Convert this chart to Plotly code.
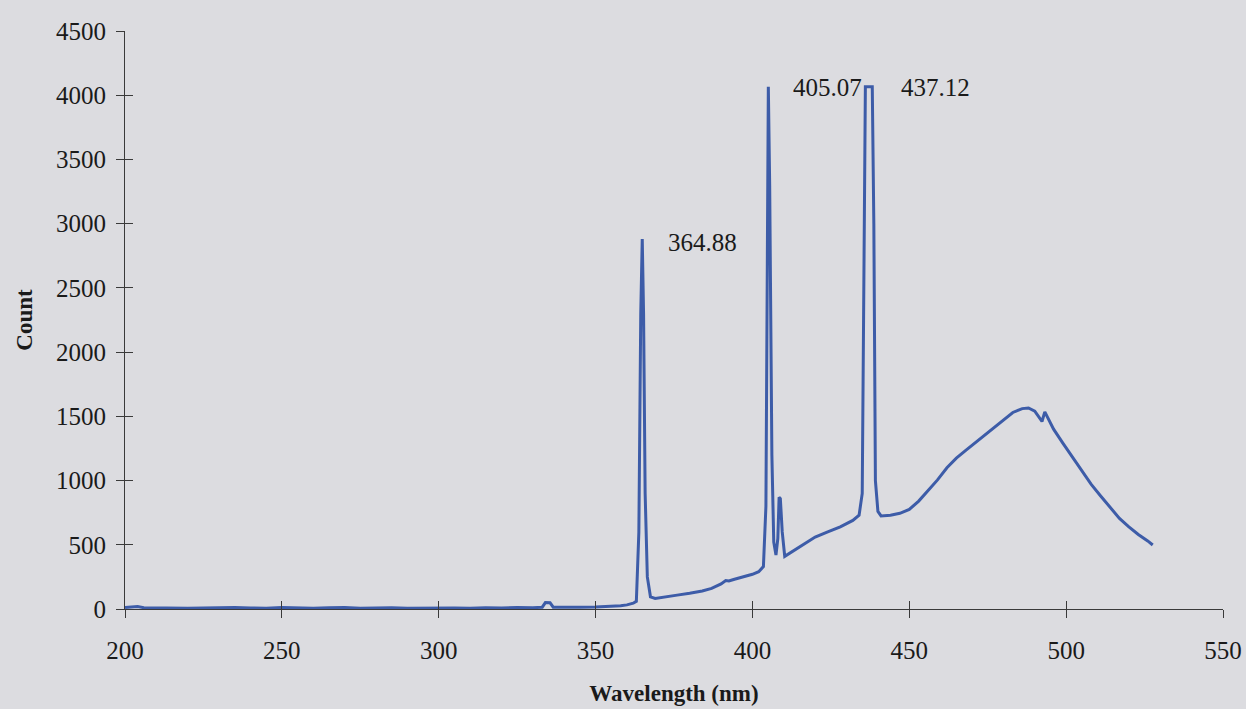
import plotly.graph_objects as go

wavelength = [200, 202, 204, 206, 210, 215, 220, 225, 230, 235, 240, 245, 250, 255, 260,
              265, 270, 275, 280, 285, 290, 295, 300, 305, 310, 315, 320, 325, 330, 333,
              334, 335.5, 336.5, 340, 345, 350, 355, 358, 360, 362, 363, 363.8, 364.4,
              364.88, 365.3, 365.8, 366.5, 367.5, 369, 372, 376, 380, 384, 387, 390,
              391.5, 392.5, 394, 397, 400, 402, 403.5, 404.3, 404.7, 405.07, 405.5, 406.2,
              406.8, 407.5, 408.1, 408.5, 408.9, 409.5, 410.3, 413, 416, 420, 424, 428,
              432, 434, 435, 435.6, 436.0, 438.2, 438.7, 439.2, 440, 441, 444, 447, 450,
              453, 456, 459, 462, 465, 468, 471, 474, 477, 480, 483, 486, 488, 490, 491.5,
              492.3, 493.2, 494.5, 496, 499, 502, 505, 508, 511, 514, 517, 520, 523, 526,
              527.6]
count = [12, 18, 20, 10, 8, 10, 6, 8, 10, 12, 8, 6, 12, 8, 6,
         10, 12, 6, 8, 10, 6, 8, 10, 8, 6, 10, 8, 12, 10, 14,
         50, 48, 14, 12, 14, 16, 20, 25, 32, 45, 60, 600, 2300,
         2880, 2300, 900, 250, 95, 82, 95, 108, 122, 140, 160, 195,
         222, 218, 230, 250, 270, 290, 330, 800, 3200, 4065, 3300, 1200,
         520, 420, 550, 870, 860, 600, 410, 450, 500, 560, 600, 640,
         690, 730, 900, 3000, 4065, 4065, 3000, 1000, 760, 725, 730, 745, 775,
         840, 920, 1005, 1100, 1175, 1235, 1295, 1350, 1410, 1470, 1530, 1560, 1565, 1540, 1490,
         1460, 1535, 1470, 1400, 1290, 1180, 1080, 970, 880, 790, 705, 640, 580, 530,
         498]

peak_labels = ["364.88", "405.07", "437.12"]
label_x = [384.2, 423.8, 458.2]
label_y = [2850, 4058, 4058]

x_ticks = [200, 250, 300, 350, 400, 450, 500, 550]
y_ticks = [0, 500, 1000, 1500, 2000, 2500, 3000, 3500, 4000, 4500]

FONT = "Liberation Serif"
BG = "#dcdce0"
AX = "#3a3a3a"

fig = go.Figure()
fig.add_trace(go.Scatter(x=wavelength, y=count, mode="lines",
                         line=dict(color="#3d5ca8", width=3), showlegend=False,
                         hoverinfo="skip"))
fig.add_trace(go.Scatter(x=[None], y=[None], xaxis="x2", yaxis="y2", showlegend=False,
                         hoverinfo="skip"))

for t, xv, yv in zip(peak_labels, label_x, label_y):
    fig.add_annotation(x=xv, y=yv, xref="x", yref="y", text=t, showarrow=False,
                       font=dict(family=FONT, size=25, color="#1a1a1a"))

fig.update_layout(
    width=1246, height=709,
    margin=dict(l=125, r=23, t=31, b=100),
    paper_bgcolor=BG, plot_bgcolor=BG,
    font=dict(family=FONT, size=25, color="#1a1a1a"),
    xaxis=dict(range=[200, 550], tickvals=x_ticks, ticks="outside", ticklen=8,
               tickcolor=AX, tickwidth=1.2, showline=True, linecolor=AX, linewidth=1.2,
               showgrid=False, zeroline=False, ticklabelstandoff=11, automargin=False,
               title=dict(text="<b>Wavelength (nm)</b>", font=dict(family=FONT, size=23),
                          standoff=21)),
    yaxis=dict(range=[0, 4500], tickvals=y_ticks, ticks="outside", ticklen=8,
               tickcolor=AX, tickwidth=1.2, showline=True, linecolor=AX, linewidth=1.2,
               showgrid=False, zeroline=False, ticklabelstandoff=5, automargin=False,
               title=dict(text="<b>Count</b>", font=dict(family=FONT, size=23),
                          standoff=16)),
    xaxis2=dict(range=[200, 550], tickvals=x_ticks, ticks="inside", ticklen=8,
                tickcolor=AX, tickwidth=1.2, overlaying="x", showticklabels=False,
                showgrid=False, zeroline=False, showline=False, side="bottom",
                automargin=False),
    yaxis2=dict(range=[0, 4500], tickvals=y_ticks, ticks="inside", ticklen=8,
                tickcolor=AX, tickwidth=1.2, overlaying="y", showticklabels=False,
                showgrid=False, zeroline=False, showline=False, side="left",
                automargin=False),
)

fig.write_html("out.html", config={"displayModeBar": False},
               post_script="document.body.style.margin='0';document.body.style.background='" + BG + "';")
